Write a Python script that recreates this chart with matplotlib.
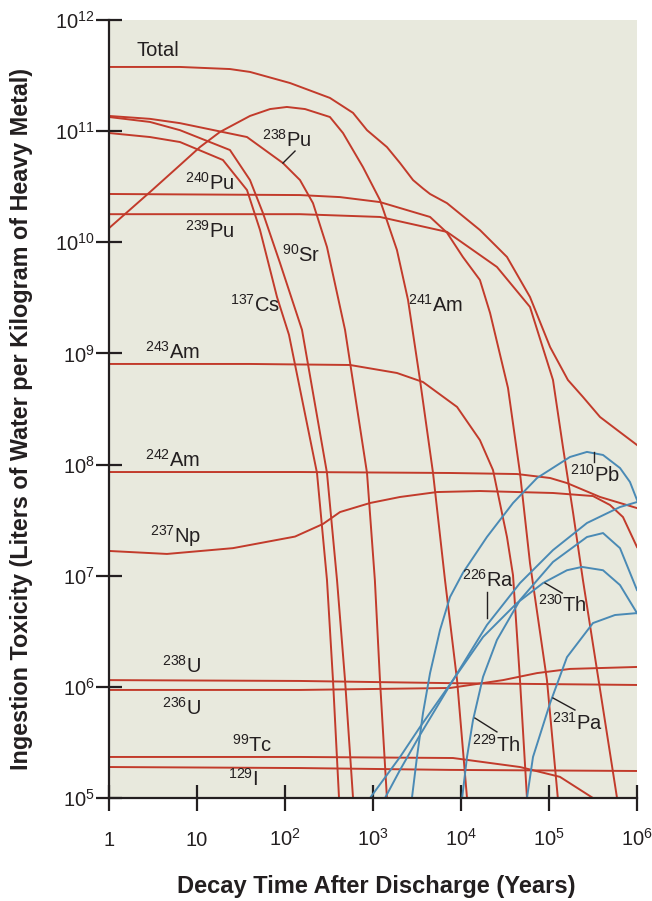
import numpy as np
import matplotlib
matplotlib.use("Agg")
import matplotlib.pyplot as plt
from matplotlib.ticker import NullLocator

# ---- data (years, litres water / kg HM) ----
total_t = [1, 6.41, 23.7, 40, 114, 324, 593, 855, 1440, 2030, 2850, 3700, 4450, 6930, 16400, 33300, 60800, 103000, 164000, 243000, 380000, 593000, 1e6]
total_y = [3.78e11, 3.78e11, 3.62e11, 3.41e11, 2.71e11, 1.99e11, 1.46e11, 1.02e11, 7.19e10, 5.16e10, 3.63e10, 3.05e10, 2.72e10, 2.25e10, 1.29e10, 7.38e9, 3.22e9, 1.14e9, 5.77e8, 4.06e8, 2.68e8, 2.05e8, 1.50e8]

am241_t = [1, 2.92, 6.41, 10.8, 18.2, 40, 67.6, 105, 169, 324, 456, 769, 1200, 1870, 2500, 3420, 4810, 6580, 9020, 11700]
am241_y = [1.34e10, 2.83e10, 4.95e10, 7.19e10, 9.82e10, 1.37e11, 1.58e11, 1.65e11, 1.58e11, 1.34e11, 9.62e10, 4.75e10, 2.40e10, 8.53e9, 3.03e9, 5.77e8, 8.40e7, 9.14e6, 1.15e6, 1e5]

pu238_t = [1, 2.92, 6.41, 37, 94.8, 148, 208, 300, 481, 855, 1050, 1200, 1440]
pu238_y = [1.37e11, 1.29e11, 1.18e11, 8.85e10, 5.16e10, 3.63e10, 2.25e10, 9.06e9, 1.63e9, 8.40e7, 9.14e6, 1.15e6, 1e5]

sr90_t = [1, 2.92, 6.41, 23.7, 40, 56.2, 87.7, 156, 300, 390, 481, 593]
sr90_y = [1.34e11, 1.21e11, 1.02e11, 6.76e10, 3.63e10, 1.83e10, 6.52e9, 1.63e9, 8.40e7, 9.14e6, 1.15e6, 1e5]

cs137_t = [1, 2.92, 6.41, 19.7, 37, 52, 81.1, 111, 231, 300, 351, 411]
cs137_y = [9.62e10, 8.85e10, 7.98e10, 5.50e10, 2.95e10, 1.29e10, 3.22e9, 1.47e9, 8.40e7, 9.14e6, 1.15e6, 1e5]

pu240_t = [1, 148, 422, 1200, 4450, 6930, 10500, 16400, 21400, 34200, 46800, 60800, 94800, 126000]
pu240_y = [2.72e10, 2.66e10, 2.55e10, 2.30e10, 1.69e10, 1.22e10, 7.38e9, 4.58e9, 2.31e9, 4.89e8, 8.40e7, 1.30e7, 1.15e6, 1e5]

pu239_t = [1, 148, 1200, 6930, 25600, 60800, 111000, 144000, 188000, 243000, 351000, 593000]
pu239_y = [1.79e10, 1.79e10, 1.69e10, 1.24e10, 6.00e9, 2.62e9, 5.77e8, 1.44e8, 3.66e7, 9.14e6, 1.42e6, 1e5]

am243_t = [1, 40, 548, 1870, 3700, 9020, 16400, 23100, 33300, 39000, 46800, 56200]
am243_y = [8.04e8, 8.04e8, 7.87e8, 6.67e8, 5.53e8, 3.30e8, 1.66e8, 8.93e7, 2.23e7, 1.01e7, 1.15e6, 1e5]

am242_t = [1, 148, 7500, 43300, 103000, 160000, 380000, 1e6]
am242_y = [8.57e7, 8.57e7, 8.40e7, 8.22e7, 7.57e7, 6.82e7, 5.11e7, 4.06e7]

np237_t = [1, 4.56, 25.6, 130, 270, 422, 925, 2030, 5330, 16400, 111000, 316000, 493000, 693000, 1e6]
np237_y = [1.67e7, 1.57e7, 1.77e7, 2.25e7, 2.92e7, 3.74e7, 4.51e7, 5.11e7, 5.66e7, 5.78e7, 5.55e7, 5.21e7, 4.33e7, 3.37e7, 1.81e7]

u238_t = [1, 148, 7500, 1e6]
u238_y = [1.15e6, 1.13e6, 1.08e6, 1.04e6]

u236_t = [1, 148, 7500, 30000, 73100, 173000, 1e6]
u236_y = [9.38e5, 9.38e5, 9.77e5, 1.15e6, 1.33e6, 1.45e6, 1.51e6]

tc99_t = [1, 148, 8110, 46800, 133000, 316000]
tc99_y = [2.34e5, 2.34e5, 2.29e5, 1.90e5, 1.55e5, 1e5]

i129_t = [1, 148, 7500, 1e6]
i129_y = [1.90e5, 1.86e5, 1.79e5, 1.75e5]

pb210_t = [2770, 3160, 3700, 4450, 5770, 7500, 10500, 19700, 39000, 73100, 173000, 270000, 411000, 641000, 832000, 1e6]
pb210_y = [1e5, 2.34e5, 5.81e5, 1.33e6, 3.24e6, 6.43e6, 1.06e7, 2.23e7, 4.51e7, 7.57e7, 1.17e8, 1.30e8, 1.22e8, 9.31e7, 6.97e7, 4.80e7]

ra226_t = [1370, 2030, 3420, 8110, 19700, 46800, 111000, 270000, 641000, 1e6]
ra226_y = [1e5, 1.79e5, 3.69e5, 1.15e6, 3.60e6, 8.59e6, 1.70e7, 2.98e7, 4.15e7, 4.60e7]

th230_t = [925, 2030, 3420, 8110, 17800, 43300, 85500, 160000, 237000, 411000, 641000, 1e6]
th230_y = [1e5, 2.34e5, 4.35e5, 1.15e6, 2.81e6, 5.68e6, 8.59e6, 1.12e7, 1.20e7, 1.12e7, 8.24e6, 4.61e6]

th229_t = [10300, 11700, 13700, 17800, 25600, 46800, 111000, 270000, 411000, 641000, 1e6]
th229_y = [1e5, 2.34e5, 5.03e5, 1.23e6, 2.64e6, 6.04e6, 1.33e7, 2.23e7, 2.42e7, 1.77e7, 7.43e6]

pa231_t = [56200, 65800, 103000, 160000, 316000, 562000, 1e6]
pa231_y = [1e5, 2.34e5, 7.16e5, 1.85e6, 3.75e6, 4.43e6, 4.61e6]

# label text, x, y (left edge, vertical centre)
labels = [
    ("Total", 2.03, 5.37e11),
    (r"$^{238}$Pu", 54.8, 8.3e10),
    (r"$^{240}$Pu", 7.31, 3.41e10),
    (r"$^{239}$Pu", 7.31, 1.26e10),
    (r"$^{90}$Sr", 92.4, 7.69e9),
    (r"$^{137}$Cs", 23.7, 2.73e9),
    (r"$^{241}$Am", 2500, 2.73e9),
    (r"$^{243}$Am", 2.57, 1.03e9),
    (r"$^{242}$Am", 2.57, 1.10e8),
    (r"$^{237}$Np", 2.92, 2.28e7),
    (r"$^{238}$U", 4.0, 1.54e6),
    (r"$^{236}$U", 4.0, 6.46e5),
    (r"$^{99}$Tc", 25.0, 3.0e5),
    (r"$^{129}$I", 22.5, 1.48e5),
    (r"$^{210}$Pb", 173000, 8.05e7),
    (r"$^{226}$Ra", 10300, 9.14e6),
    (r"$^{230}$Th", 75000, 5.45e6),
    (r"$^{229}$Th", 13300, 3.0e5),
    (r"$^{231}$Pa", 108000, 4.73e5),
]

# leader lines: (x0, x1), (y0, y1)
leaders = [
    ((130, 94.8), (6.62e10, 5.16e10)),
    ((19700, 19700), (7.13e6, 4.16e6)),
    ((90100, 141000), (8.59e6, 6.98e6)),
    ((14400, 25600), (5.24e5, 3.93e5)),
    ((111000, 197000), (7.94e5, 6.19e5)),
    ((325000, 325000), (1.30e8, 1.05e8)),
]

red_curves = [(total_t, total_y), (am241_t, am241_y), (pu238_t, pu238_y), (sr90_t, sr90_y),
              (cs137_t, cs137_y), (pu240_t, pu240_y), (pu239_t, pu239_y), (am243_t, am243_y),
              (am242_t, am242_y), (np237_t, np237_y), (u238_t, u238_y), (u236_t, u236_y),
              (tc99_t, tc99_y), (i129_t, i129_y)]
blue_curves = [(pb210_t, pb210_y), (ra226_t, ra226_y), (th230_t, th230_y),
               (th229_t, th229_y), (pa231_t, pa231_y)]

red = "#c23b2b"
blue = "#4a8ab5"
ink = "#231f20"

plt.rcParams["font.family"] = ["Liberation Sans", "DejaVu Sans"]
plt.rcParams["mathtext.fontset"] = "custom"
plt.rcParams["mathtext.rm"] = "Liberation Sans"
plt.rcParams["mathtext.default"] = "regular"

fig = plt.figure(figsize=(6.52, 9.01), dpi=100)
ax = fig.add_axes([109/652, 1-798/901, (637-109)/652, (798-20)/901])
ax.set_facecolor("#e8e9dd")

for t, y in red_curves:
    ax.plot(t, y, color=red, lw=1.4, solid_joinstyle="round")
for t, y in blue_curves:
    ax.plot(t, y, color=blue, lw=1.4, solid_joinstyle="round")

ax.set_xscale("log")
ax.set_yscale("log")
ax.set_xlim(1, 1e6)
ax.set_ylim(1e5, 1e12)

for txt, x, y in labels:
    ax.text(x, y, txt, fontsize=14.5, color=ink, ha="left", va="center")
for xs, ys in leaders:
    ax.plot(xs, ys, color=ink, lw=1.0)

ax.set_xticks([1, 10, 1e2, 1e3, 1e4, 1e5, 1e6])
ax.set_xticklabels(["1", "10"] + [r"$10^{%d}$" % k for k in range(2, 7)])
ax.set_yticks([10.0**k for k in range(5, 13)])
ax.set_yticklabels([r"$10^{%d}$" % k for k in range(5, 13)])
ax.xaxis.set_minor_locator(NullLocator())
ax.yaxis.set_minor_locator(NullLocator())
ax.tick_params(axis="both", direction="inout", length=19, width=1.6, color=ink,
               labelsize=14.5, labelcolor=ink)
ax.tick_params(axis="x", pad=25)
ax.tick_params(axis="y", pad=1)
for lab in ax.get_xticklabels():
    lab.set_verticalalignment("baseline")

for s in ["top", "right"]:
    ax.spines[s].set_visible(False)
for s in ["left", "bottom"]:
    ax.spines[s].set_linewidth(1.6)
    ax.spines[s].set_color(ink)

fig.text(376/652, 1-886/901, "Decay Time After Discharge (Years)", fontsize=17,
         fontweight="bold", color=ink, ha="center", va="center")
fig.text(22/652, 1-419/901, "Ingestion Toxicity (Liters of Water per Kilogram of Heavy Metal)",
         fontsize=16.8, fontweight="bold", color=ink, ha="center", va="center", rotation=90)

fig.savefig("out.png", dpi=100)
